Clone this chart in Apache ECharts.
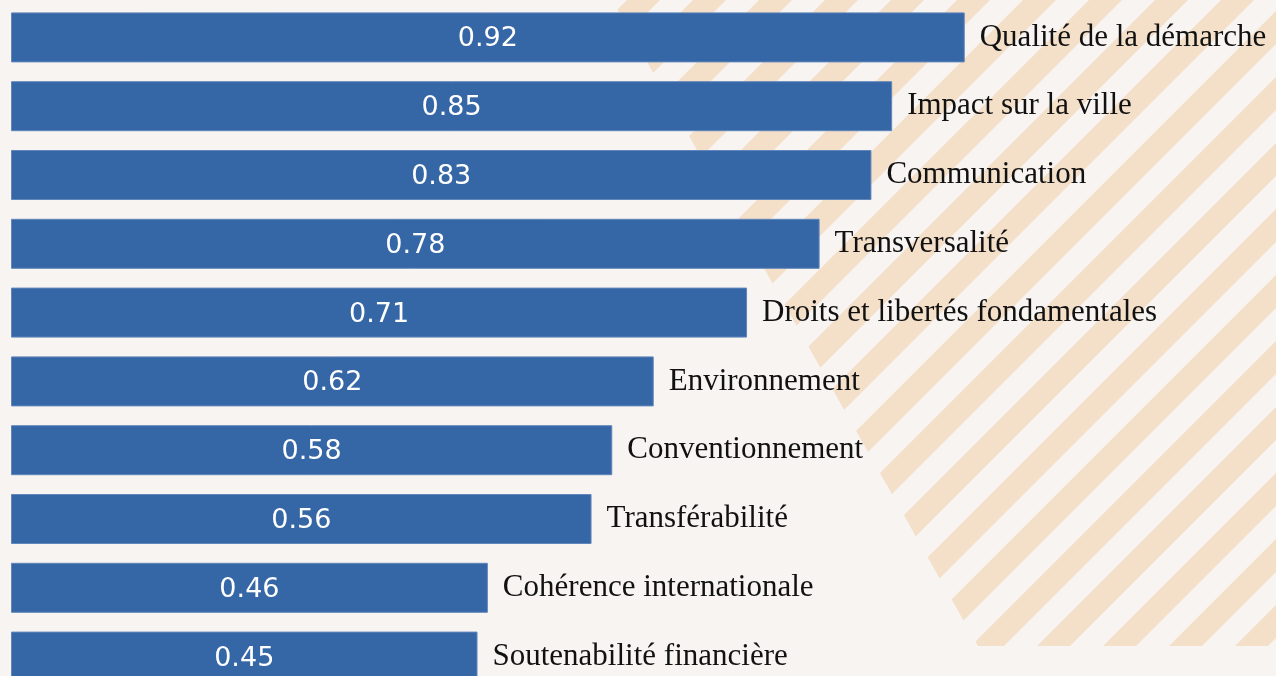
<!DOCTYPE html>
<html>
<head>
<meta charset="utf-8">
<script src="https://cdn.jsdelivr.net/npm/echarts@6/dist/echarts.min.js"></script>
<style>
html, body { margin: 0; padding: 0; background: #f7f4f1; }
#chart { width: 1276px; height: 676px; }
</style>
</head>
<body>
<div id="chart"></div>
<script>
// categories, top to bottom
var categories = [
	"Qualité de la démarche",
	"Impact sur la ville",
	"Communication",
	"Transversalité",
	"Droits et libertés fondamentales",
	"Environnement",
	"Conventionnement",
	"Transférabilité",
	"Cohérence internationale",
	"Soutenabilité financière"
];
var scores = [0.92, 0.85, 0.83, 0.78, 0.71, 0.62, 0.58, 0.56, 0.46, 0.45];

//fond rayé (décor)
function makestripes(){
	var cv = document.createElement("canvas");
	cv.width = 1276;
	cv.height = 676;
	var ctx = cv.getContext("2d");
	ctx.beginPath();
	ctx.moveTo(612, 0);
	ctx.lineTo(1276, 0);
	ctx.lineTo(1276, 646);
	ctx.lineTo(978, 646);
	ctx.closePath();
	ctx.clip();
	ctx.fillStyle = "#f4dfc9";
	for(var c = 1155 - 66 * 10; c < 2000; c += 66){
		ctx.beginPath();
		ctx.moveTo(c, 0);
		ctx.lineTo(c + 33, 0);
		ctx.lineTo(c + 33 - 676, 676);
		ctx.lineTo(c - 676, 676);
		ctx.closePath();
		ctx.fill();
	}
	return cv;
}

var myChart = echarts.init(document.getElementById("chart"));

myChart.setOption({
	backgroundColor: "#f7f4f1",
	animation: false,
	graphic: [{
		type: "image",
		z: -10,
		silent: true,
		style: { image: makestripes(), x: 0, y: 0, width: 1276, height: 676 }
	}],
	grid: { left: 11, top: 3, width: 1244, height: 688, outerBoundsMode: "none" },
	xAxis: {
		type: "value",
		min: 0,
		max: 1.2,
		show: false
	},
	yAxis: {
		type: "category",
		data: categories,
		inverse: true,
		show: false
	},
	series: [{
		type: "bar",
		data: scores,
		barWidth: 50,
		itemStyle: { color: "#3566a5", borderColor: "#6186bb", borderWidth: 1 },
		label: {
			show: true,
			position: "inside",
			offset: [0, 2],
			color: "#ffffff",
			fontFamily: "DejaVu Sans",
			fontSize: 27,
			formatter: function(p){ return p.value.toFixed(2); }
		}
	}, {
		type: "bar",
		data: scores,
		barWidth: 50,
		barGap: "-100%",
		itemStyle: { color: "transparent" },
		label: {
			show: true,
			position: "right",
			distance: 15,
			color: "#111111",
			fontFamily: "Liberation Serif",
			fontSize: 31,
			formatter: function(p){ return p.name; }
		}
	}]
});
</script>
</body>
</html>
